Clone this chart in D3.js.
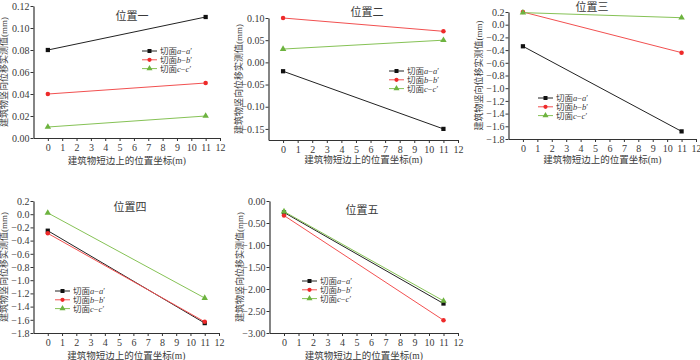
<!DOCTYPE html>
<html>
<head>
<meta charset="utf-8">
<script src="https://cdn.jsdelivr.net/npm/d3@7"></script>
<style>
  body { margin: 0; background: #fff; }
  svg { display: block; }
  text { font-family: "Liberation Serif", "Noto Sans CJK SC", serif; fill: #3a3a3a; }
</style>
</head>
<body>
<div id="chart"></div>
<script>
// Values
const xValues = [0, 11];
const positionNames = ['位置一', '位置二', '位置三', '位置四', '位置五'];
const sectionNames = ['a', 'b', 'c'];
const cutA = [[0.08, 0.11], [-0.02, -0.15], [-0.34, -1.68], [-0.25, -1.65], [-0.26, -2.33]];
const cutB = [[0.04, 0.05], [0.10, 0.07], [0.20, -0.44], [-0.29, -1.63], [-0.33, -2.71]];
const cutC = [[0.01, 0.02], [0.03, 0.05], [0.19, 0.11], [0.02, -1.27], [-0.24, -2.27]];
const yDomains = [[0, 0.12], [-0.175, 0.10], [-1.8, 0.2], [-1.8, 0.2], [-3, 0]];
const yTicks = [
  [0, 0.02, 0.04, 0.06, 0.08, 0.10, 0.12],
  [-0.15, -0.10, -0.05, 0, 0.05, 0.10],
  [-1.8, -1.6, -1.4, -1.2, -1.0, -0.8, -0.6, -0.4, -0.2, 0, 0.2],
  [-1.8, -1.6, -1.4, -1.2, -1.0, -0.8, -0.6, -0.4, -0.2, 0, 0.2],
  [-3, -2.5, -2, -1.5, -1, -0.5, 0]
];
const yFormats = ['.2f', '.2f', '.1f', '.1f', '.2f'];
const xTicks = d3.range(0, 13);
const xLabel = '建筑物短边上的位置坐标(m)';
const yLabel = '建筑物竖向位移实测值(mm)';

// Panel placement in the 700x360 window
const layout = [
  { left: 33.5, right: 220, top: 6, bottom: 138, title: [132, 16], legend: [142, 51], xl: 164 },
  { left: 268.5, right: 458, top: 18, bottom: 140, title: [367, 12], legend: [389, 71], xl: 163 },
  { left: 508.5, right: 696, top: 12, bottom: 139, title: [592, 7], legend: [538, 98], xl: 163 },
  { left: 33.5, right: 219, top: 201, bottom: 333, title: [130, 207], legend: [55, 291], xl: 358.5 },
  { left: 269.5, right: 458, top: 201, bottom: 333, title: [362, 210], legend: [302, 281], xl: 358.5 }
];

const colors = ['#222', '#f25050', '#86c256'];
const markerColors = ['#111', '#ee2a2a', '#6db33f'];
const symbols = [d3.symbolSquare, d3.symbolCircle, d3.symbolTriangle];

const width = 700, height = 360;
const svg = d3.select('#chart').append('svg')
  .attr('width', width)
  .attr('height', height);

positionNames.forEach((name, i) => {
  const L = layout[i];
  const x = d3.scaleLinear().domain([-1, 12]).range([L.left, L.right]);
  const y = d3.scaleLinear().domain(yDomains[i]).range([L.bottom, L.top]);
  const g = svg.append('g');

  // axes
  const xAxis = g.append('g')
    .attr('transform', `translate(0,${L.bottom})`)
    .call(d3.axisBottom(x).tickValues(xTicks).tickSize(3).tickSizeOuter(0).tickFormat(d3.format('d')));
  const yAxis = g.append('g')
    .attr('transform', `translate(${L.left},0)`)
    .call(d3.axisLeft(y).tickValues(yTicks[i]).tickSize(3).tickSizeOuter(0).tickFormat(d3.format(yFormats[i])));
  [xAxis, yAxis].forEach(a => {
    a.attr('font-family', null);
    a.selectAll('.domain').attr('stroke', '#333').attr('stroke-width', 1.2);
    a.selectAll('.tick line').attr('stroke', '#333');
    a.selectAll('.tick text')
      .style('font-family', '"Liberation Serif", serif')
      .style('font-size', '10px')
      .attr('fill', '#333');
  });
  yAxis.selectAll('.tick text').attr('x', -4);

  // axis titles
  g.append('text')
    .attr('x', (L.left + L.right) / 2)
    .attr('y', L.xl)
    .attr('text-anchor', 'middle')
    .style('font-size', '9.5px')
    .text(xLabel);
  g.append('text')
    .attr('transform', `translate(${L.left - 27},${(L.top + L.bottom) / 2}) rotate(-90)`)
    .attr('text-anchor', 'middle')
    .style('font-size', '9px')
    .text(yLabel);

  // panel title
  g.append('text')
    .attr('x', L.title[0])
    .attr('y', L.title[1])
    .attr('dy', '0.35em')
    .attr('text-anchor', 'middle')
    .style('font-size', '11px')
    .text(name);

  // series
  const series = [cutA[i], cutB[i], cutC[i]];
  const line = d3.line().x((d, k) => x(xValues[k])).y(d => y(d));
  series.forEach((vals, s) => {
    g.append('path')
      .datum(vals)
      .attr('fill', 'none')
      .attr('stroke', colors[s])
      .attr('stroke-width', 1)
      .attr('d', line);
    g.selectAll(null)
      .data(vals)
      .enter()
      .append('path')
      .attr('transform', (d, k) => `translate(${x(xValues[k])},${y(d)})`)
      .attr('fill', markerColors[s])
      .attr('d', d3.symbol().type(symbols[s]).size([18, 16, 18][s]));
  });

  // legend
  const lg = g.append('g').attr('transform', `translate(${L.legend[0]},${L.legend[1]})`);
  sectionNames.forEach((sec, s) => {
    const row = lg.append('g').attr('transform', `translate(0,${s * 8.8})`);
    row.append('line')
      .attr('x1', 0).attr('x2', 15)
      .attr('stroke', colors[s]).attr('stroke-width', 1);
    row.append('path')
      .attr('transform', 'translate(7.5,0)')
      .attr('fill', markerColors[s])
      .attr('d', d3.symbol().type(symbols[s]).size([16, 14, 16][s]));
    const t = row.append('text')
      .attr('x', 18)
      .attr('dy', '0.35em')
      .style('font-size', '8.5px');
    t.append('tspan').text('切面');
    t.append('tspan').style('font-style', 'italic').text(sec);
    t.append('tspan').text('−');
    t.append('tspan').style('font-style', 'italic').text(sec);
    t.append('tspan').text('′');
  });
});
</script>
</body>
</html>
